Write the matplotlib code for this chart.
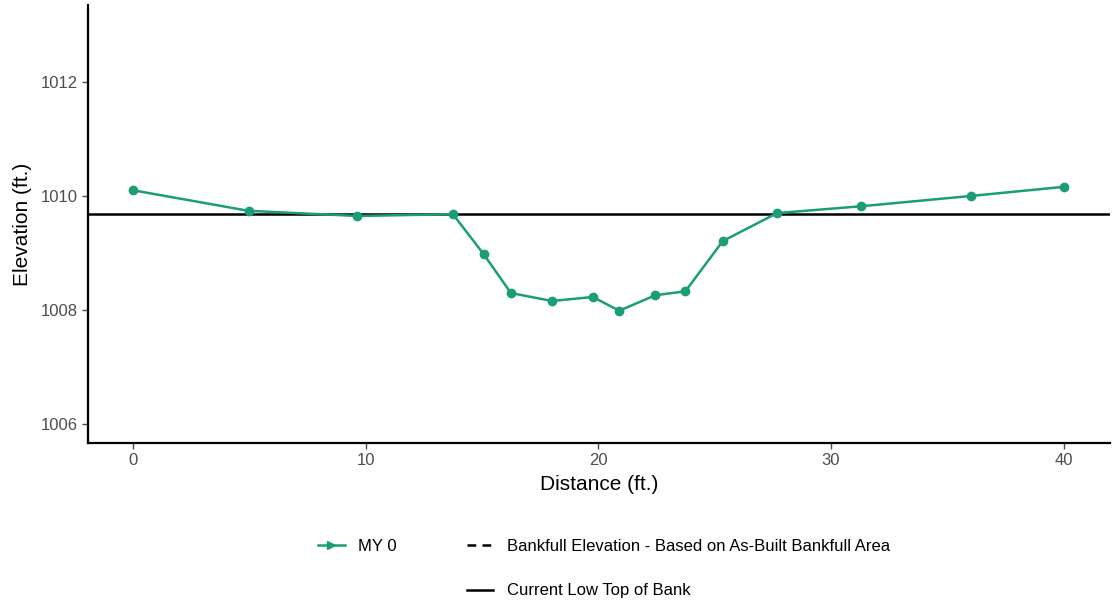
import matplotlib.pyplot as plt
from matplotlib.lines import Line2D

# cross section survey, MY 0
distance = [0, 4.96, 9.62, 13.75, 15.07, 16.24, 18.0, 19.76, 20.9, 22.45, 23.74, 25.35, 27.68, 31.3, 36.0, 40.0]
elevation = [1010.10, 1009.74, 1009.65, 1009.68, 1008.98, 1008.30, 1008.16, 1008.23, 1007.99, 1008.26,
             1008.33, 1009.21, 1009.70, 1009.82, 1010.00, 1010.16]
low_top_of_bank = 1009.68

x_ticks = [0, 10, 20, 30, 40]
y_ticks = [1006, 1008, 1010, 1012]

teal = '#1b9e77'
tick_grey = '#4d4d4d'

plt.rcParams['font.family'] = ['Liberation Sans', 'DejaVu Sans']

fig = plt.figure(figsize=(11.14, 6.02), dpi=100)
ax = fig.add_axes([0.079, 0.264, 0.9175, 0.728])

ax.plot(distance, elevation, color=teal, linewidth=1.8, marker='o', markersize=6, zorder=3)
ax.axhline(low_top_of_bank, color='black', linewidth=1.8, zorder=2)

ax.set_xlim(-1.94, 42.0)
ax.set_ylim(1005.67, 1013.35)
ax.set_xticks(x_ticks)
ax.set_yticks(y_ticks)
ax.tick_params(axis='both', colors=tick_grey, labelsize=12, length=4, width=1)

for side in ['top', 'right']:
    ax.spines[side].set_visible(False)
for side in ['left', 'bottom']:
    ax.spines[side].set_linewidth(1.6)
    ax.spines[side].set_color('black')

ax.set_xlabel('Distance (ft.)', fontsize=15, labelpad=5)
ax.set_ylabel('Elevation (ft.)', fontsize=15, labelpad=6)

# legend below the plot, two columns like ggplot
h_my0 = Line2D([], [], color=teal, linewidth=1.8, marker='>', markersize=6)
h_blank = Line2D([], [], color='none')
h_bkf = Line2D([], [], color='black', linewidth=1.8, linestyle=(0, (3.5, 2.5)))
h_tob = Line2D([], [], color='black', linewidth=1.8)
leg = fig.legend([h_my0, h_blank, h_bkf, h_tob],
                 ['MY 0', '', 'Bankfull Elevation - Based on As-Built Bankfull Area', 'Current Low Top of Bank'],
                 ncol=2, loc='center', bbox_to_anchor=(0.542, 0.055), frameon=False,
                 fontsize=12, handlelength=1.6, columnspacing=4.2, labelspacing=1.75, handletextpad=0.8)

fig.savefig('out.png', dpi=100)
